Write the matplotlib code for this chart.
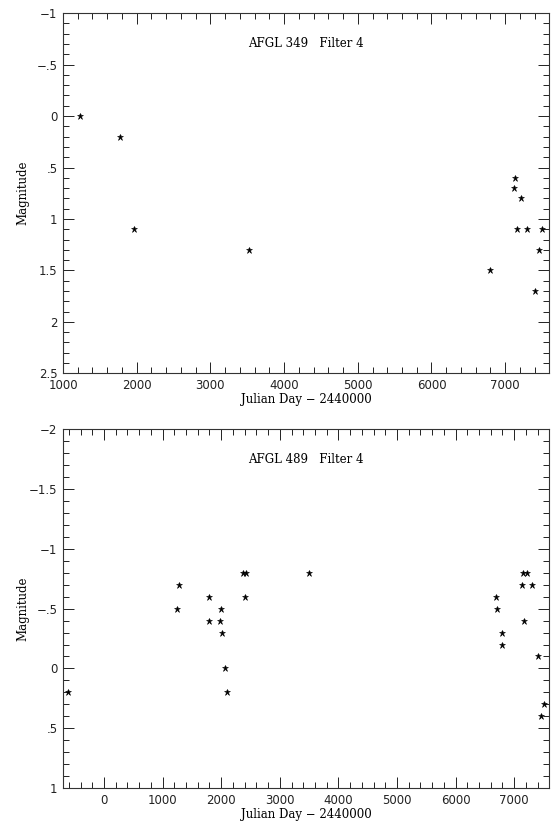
import matplotlib
matplotlib.use("Agg")
import matplotlib.pyplot as plt
from matplotlib.ticker import MultipleLocator, FuncFormatter

# AFGL 349, filter 4
jd_349 = [1230, 1770, 1960, 3520, 6790, 7138, 7120, 7220, 7160, 7296, 7494, 7454, 7405]
mag_349 = [0.0, 0.2, 1.1, 1.3, 1.5, 0.6, 0.7, 0.8, 1.1, 1.1, 1.1, 1.3, 1.7]

# AFGL 489, filter 4
jd_489 = [-615, 1239, 1273, 1796, 1784, 1989, 1972, 2006, 2069, 2091, 2371, 2415,
          2398, 3504, 6691, 6708, 6788, 6793, 7157, 7215, 7140, 7300, 7164, 7413,
          7510, 7464]
mag_489 = [0.2, -0.5, -0.7, -0.6, -0.4, -0.5, -0.4, -0.3, 0.0, 0.2, -0.8, -0.8,
           -0.6, -0.8, -0.6, -0.5, -0.3, -0.2, -0.8, -0.8, -0.7, -0.7, -0.4, -0.1,
           0.3, 0.4]


def mag_fmt(v, pos):
    if abs(v) < 1e-9:
        return "0"
    s = ("%g" % abs(v))
    if s.startswith("0."):
        s = s[1:]
    return ("\u2212" + s) if v < 0 else s


def style_axes(ax, jd, mag, title, xlim, ylim):
    ax.plot(jd, mag, linestyle="none", marker="*", color="black",
            markersize=4.5, markeredgewidth=0.4)
    ax.set_xlim(*xlim)
    ax.set_ylim(*ylim)
    ax.xaxis.set_major_locator(MultipleLocator(1000))
    ax.xaxis.set_minor_locator(MultipleLocator(200))
    ax.yaxis.set_major_locator(MultipleLocator(0.5))
    ax.yaxis.set_minor_locator(MultipleLocator(0.1))
    ax.yaxis.set_major_formatter(FuncFormatter(mag_fmt))
    ax.tick_params(which="both", direction="in", top=True, right=True,
                   width=0.7, labelsize=8.5, colors="#222222")
    ax.tick_params(which="major", length=8, pad=4)
    ax.tick_params(which="minor", length=4.5)
    for sp in ax.spines.values():
        sp.set_linewidth(0.8)
        sp.set_color("#333333")
    for lab in ax.get_xticklabels() + ax.get_yticklabels():
        lab.set_family("DejaVu Sans")
    ax.text(0.5, 0.915, title, transform=ax.transAxes, ha="center", va="center",
            fontsize=8.5, family="DejaVu Serif")
    ax.set_xlabel("Julian Day \u2212 2440000", fontsize=8.5, family="DejaVu Serif",
                  labelpad=1)
    ax.set_ylabel("Magnitude", fontsize=8.5, family="DejaVu Serif")
    ax.yaxis.set_label_coords(-0.07, 0.5)


fig = plt.figure(figsize=(5.6, 8.24), dpi=100)
ax1 = fig.add_axes([0.1125, 0.547, 0.8685, 0.437])
ax2 = fig.add_axes([0.1125, 0.0437, 0.8685, 0.4353])

style_axes(ax1, jd_349, mag_349, "AFGL 349   Filter 4", (1000, 7600), (2.5, -1))
style_axes(ax2, jd_489, mag_489, "AFGL 489   Filter 4", (-700, 7600), (1, -2))

fig.savefig("out.png", dpi=100)
plt.close(fig)
